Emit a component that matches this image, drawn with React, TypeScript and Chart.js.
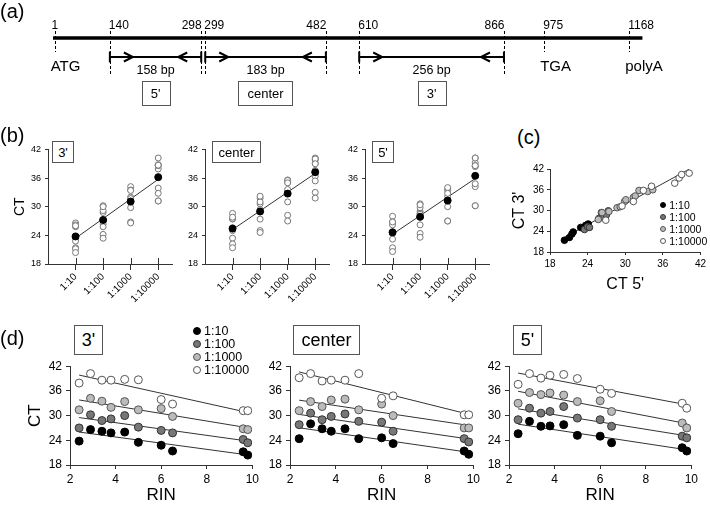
import React, { useEffect, useRef } from 'react';
import { Chart, registerables } from 'chart.js';
Chart.register(...registerables);

const FONT = '"Liberation Sans", Arial, Helvetica, sans-serif';
Chart.defaults.font.family = FONT;
Chart.defaults.color = '#000';

// ---------- (a) gene map ----------
const siteBp = [1, 140, 298, 299, 482, 610, 866, 975, 1168];
const siteMapPos = [0, 9.6, 25.5, 26.2, 47.2, 53.0, 78.2, 85.2, 100]; // schematic (not to scale) positions
const siteLabelAlign = ['center', 'left', 'right', 'left', 'right', 'left', 'right', 'left', 'left'];
const backboneExtent = [-0.3, 102.3];
const landmarkNames = ['ATG', 'TGA', 'polyA'];
const landmarkSite = [0, 7, 8];
const ampliconNames = ["5'", 'center', "3'"];
const ampliconLengths = ['158 bp', '183 bp', '256 bp'];
const ampliconStart = [1, 3, 5];
const ampliconEnd = [2, 4, 6];

// ---------- shared ----------
const dilutions = ['1:10', '1:100', '1:1000', '1:10000'];
const rin = [2.4, 2.9, 3.4, 3.8, 4.4, 5.0, 6.0, 6.5, 9.6, 9.8];

// ---------- (d) CT vs RIN ----------
const d3_10 = [23.8, 26.6, 26.2, 25.8, 26.0, 23.5, 22.8, 21.4, 21.2, 20.4];
const d3_100 = [27.0, 30.2, 28.8, 29.2, 30.0, 27.2, 26.4, 25.8, 24.2, 23.4];
const d3_1000 = [31.4, 34.2, 33.5, 32.0, 33.4, 31.4, 31.7, 29.8, 26.8, 26.6];
const d3_10000 = [37.9, 40.2, 38.6, 38.6, 38.8, 38.7, 33.9, 32.8, 31.2, 31.2];

const dC_10 = [24.4, 28.0, 26.8, 26.2, 26.8, 24.4, 24.6, 23.2, 21.4, 20.6];
const dC_100 = [27.8, 30.6, 29.0, 29.8, 30.4, 28.6, 28.4, 26.2, 24.4, 23.6];
const dC_1000 = [31.2, 33.4, 32.2, 33.8, 34.0, 31.4, 32.8, 30.0, 27.0, 27.0];
const dC_10000 = [39.2, 40.2, 38.4, 38.6, 38.6, 40.2, 34.2, 34.8, 30.2, 30.2];

const d5_10 = [25.6, 28.6, 27.4, 27.5, 27.8, 25.2, 25.0, 23.4, 22.2, 21.4];
const d5_100 = [29.0, 31.8, 30.6, 31.0, 32.2, 29.4, 29.0, 27.4, 25.0, 24.6];
const d5_1000 = [33.0, 35.6, 35.1, 35.5, 35.0, 33.4, 33.6, 31.0, 28.2, 27.0];
const d5_10000 = [37.6, 40.2, 39.1, 39.8, 40.0, 39.0, 36.4, 35.4, 33.0, 31.8];

const d3 = [d3_10, d3_100, d3_1000, d3_10000];
const dC = [dC_10, dC_100, dC_1000, dC_10000];
const d5 = [d5_10, d5_100, d5_1000, d5_10000];

// ---------- (c) CT 5' vs CT 3' ----------
const c10_x = [20.3, 21.1, 21.5, 21.7, 22.9, 23.4, 23.7, 24.1];
const c10_y = [21.4, 22.2, 23.2, 23.8, 25.1, 24.8, 25.7, 26.1];
const c100_x = [23.5, 24.0, 24.3, 25.8, 26.2, 26.6, 27.0, 27.3];
const c100_y = [24.5, 25.3, 25.1, 27.7, 29.4, 28.2, 28.7, 29.9];
const c1000_x = [25.7, 26.3, 27.4, 28.7, 29.2, 29.9, 30.1, 31.3, 31.6, 32.2, 33.6, 34.4];
const c1000_y = [27.4, 29.4, 29.7, 30.8, 31.1, 32.6, 33.1, 33.8, 34.2, 35.8, 35.5, 36.0];
const c10000_x = [26.9, 29.5, 31.3, 32.9, 34.2, 37.9, 38.6, 39.0, 40.2];
const c10000_y = [27.2, 31.3, 32.6, 35.8, 37.0, 37.9, 39.4, 40.4, 40.8];
const cX = [c10_x, c100_x, c1000_x, c10000_x];
const cY = [c10_y, c100_y, c1000_y, c10000_y];

// styles
const seriesFill = ['#000000', '#777777', '#bbbbbb', '#ffffff'];
const seriesBorder = ['#000000', '#333333', '#555555', '#555555'];
const AXIS = '#333333';

function mean(a: number[]) { return a.reduce((s, v) => s + v, 0) / a.length; }
function linfit(xs: number[], ys: number[]) {
  const mx = mean(xs), my = mean(ys);
  let sxx = 0, sxy = 0;
  for (let i = 0; i < xs.length; i++) { sxx += (xs[i] - mx) ** 2; sxy += (xs[i] - mx) * (ys[i] - my); }
  const b = sxy / sxx;
  return (x: number) => my + b * (x - mx);
}

function ChartCanvas({ left, top, width, height, build }: { left: number; top: number; width: number; height: number; build: () => any }) {
  const ref = useRef<HTMLCanvasElement | null>(null);
  useEffect(() => {
    if (!ref.current) return;
    const chart = new Chart(ref.current, build());
    return () => chart.destroy();
  }, []);
  return <canvas ref={ref} width={width} height={height} style={{ position: 'absolute', left, top, width, height, display: 'block' }} />;
}

// ---------- (a) builder ----------
function buildGeneMap() {
  const geneMapPlugin = {
    id: 'geneMap',
    afterDraw(chart: any) {
      const ctx = chart.ctx; const xs = chart.scales.x; const ys = chart.scales.y;
      const yb = ys.getPixelForValue(0);
      const ya = ys.getPixelForValue(-0.5);
      const px = (i: number) => xs.getPixelForValue(siteMapPos[i]);
      ctx.save();
      ctx.fillStyle = '#000';
      ctx.textBaseline = 'middle';
      ctx.font = `12px ${FONT}`;
      siteBp.forEach((bp, i) => {
        const a = siteLabelAlign[i];
        ctx.textAlign = a;
        const x = px(i) + (a === 'left' ? -1 : a === 'right' ? 0.5 : 0);
        ctx.fillText(String(bp), x, yb - 12);
      });
      ctx.strokeStyle = '#000'; ctx.lineWidth = 1; ctx.setLineDash([3, 2]);
      siteBp.forEach((_, i) => {
        const isLm = landmarkSite.includes(i);
        const x = Math.round(px(i)) + 0.5;
        ctx.beginPath(); ctx.moveTo(x, yb - 7); ctx.lineTo(x, isLm ? yb + 14 : yb + 38); ctx.stroke();
      });
      ctx.setLineDash([]);
      ctx.font = `15px ${FONT}`; ctx.textAlign = 'left';
      landmarkNames.forEach((n, k) => ctx.fillText(n, px(landmarkSite[k]) - 4, yb + 29));
      ampliconNames.forEach((name, k) => {
        const x0 = px(ampliconStart[k]), x1 = px(ampliconEnd[k]);
        ctx.lineWidth = 2; ctx.strokeStyle = '#000';
        ctx.beginPath(); ctx.moveTo(x0, ya - 5.5); ctx.lineTo(x0, ya + 5.5); ctx.moveTo(x1, ya - 5.5); ctx.lineTo(x1, ya + 5.5); ctx.stroke();
        const t0 = x0 + 23, t1 = x1 - 23;
        ctx.beginPath(); ctx.moveTo(t0 - 9, ya - 4.5); ctx.lineTo(t0, ya); ctx.lineTo(t0 - 9, ya + 4.5); ctx.stroke();
        ctx.beginPath(); ctx.moveTo(t1 + 9, ya - 4.5); ctx.lineTo(t1, ya); ctx.lineTo(t1 + 9, ya + 4.5); ctx.stroke();
        const cx = (x0 + x1) / 2;
        ctx.font = `12.5px ${FONT}`; ctx.textAlign = 'center';
        ctx.fillText(ampliconLengths[k], cx, yb + 33);
        ctx.font = `13px ${FONT}`;
        const w = ctx.measureText(name).width + 18;
        ctx.lineWidth = 1; ctx.strokeStyle = '#555';
        ctx.strokeRect(Math.round(cx - w / 2) + 0.5, yb + 43.5, Math.round(w), 24);
        ctx.fillText(name, cx, yb + 56);
      });
      ctx.restore();
    },
  };
  const datasets: any[] = [
    { type: 'line', data: [{ x: backboneExtent[0], y: 0 }, { x: backboneExtent[1], y: 0 }], borderColor: '#000', borderWidth: 3.5, pointRadius: 0 },
  ];
  ampliconNames.forEach((_, k) => {
    datasets.push({ type: 'line', data: [{ x: siteMapPos[ampliconStart[k]], y: -0.5 }, { x: siteMapPos[ampliconEnd[k]], y: -0.5 }], borderColor: '#000', borderWidth: 2, pointRadius: 0 });
  });
  return {
    type: 'scatter',
    data: { datasets },
    options: {
      animation: false, responsive: false, maintainAspectRatio: false,
      layout: { padding: { left: 53, right: 67, top: 0, bottom: 36 } },
      plugins: { legend: { display: false }, tooltip: { enabled: false } },
      scales: {
        x: { type: 'linear', display: false, min: -0.3, max: 102.4 },
        y: { type: 'linear', display: false, min: -1, max: 1 },
      },
    },
    plugins: [geneMapPlugin],
  };
}

// ---------- (b) builder ----------
function buildB(src: number[][], showTitle: boolean, yWidth: number) {
  const means = src.map(mean);
  const cats = src.map((_, i) => i + 1);
  const f = linfit(cats, means);
  const crossTicks = {
    id: 'crossTicks',
    afterDatasetsDraw(chart: any) {
      const xs = chart.scales.x; const ctx = chart.ctx; const b = chart.chartArea.bottom;
      ctx.save(); ctx.strokeStyle = AXIS; ctx.lineWidth = 1;
      xs.ticks.forEach((t: any) => {
        const p = Math.round(xs.getPixelForValue(t.value)) + 0.5;
        ctx.beginPath(); ctx.moveTo(p, b - 6); ctx.lineTo(p, b); ctx.stroke();
      });
      ctx.restore();
    },
  };
  return {
    type: 'scatter',
    data: {
      datasets: [
        { data: means.map((m, i) => ({ x: cats[i], y: m })), pointRadius: 3.5, backgroundColor: '#000', borderColor: '#000', borderWidth: 1, order: 0 },
        { data: src.flatMap((arr, i) => arr.map((v) => ({ x: cats[i], y: v }))), pointRadius: 3, backgroundColor: '#fff', borderColor: '#777', borderWidth: 1, order: 1 },
        { type: 'line', data: [{ x: cats[0], y: f(cats[0]) }, { x: cats[cats.length - 1], y: f(cats[cats.length - 1]) }], borderColor: '#333', borderWidth: 1, pointRadius: 0, order: 2 },
      ],
    },
    options: {
      animation: false, responsive: false, maintainAspectRatio: false,
      layout: { padding: { left: 0, right: 2, top: 8, bottom: 0 } },
      plugins: { legend: { display: false }, tooltip: { enabled: false } },
      scales: {
        x: {
          type: 'linear', min: 0, max: 4.5,
          afterBuildTicks: (s: any) => { s.ticks = cats.map((v) => ({ value: v })); },
          afterFit: (s: any) => { s.height = 45; },
          ticks: { callback: (v: any) => dilutions[v - 1] ?? '', minRotation: 45, maxRotation: 45, autoSkip: false, font: { size: 10 }, color: '#000', padding: 1 },
          grid: { display: true, drawOnChartArea: false, drawTicks: true, tickLength: 6, color: AXIS },
          border: { display: true, color: AXIS },
        },
        y: {
          type: 'linear', min: 18, max: 42,
          afterFit: (s: any) => { s.width = yWidth; },
          ticks: { stepSize: 6, font: { size: 9 }, color: '#000', padding: 4 },
          grid: { drawOnChartArea: false, tickLength: 3, color: AXIS },
          border: { display: true, color: AXIS },
          title: { display: showTitle, text: 'CT', font: { size: 14 }, color: '#000', padding: { top: 11.6, bottom: 0 } },
        },
      },
    },
    plugins: [crossTicks],
  };
}

// ---------- (c) builder ----------
function buildC() {
  const allX = cX.flat(), allY = cY.flat();
  const f = linfit(allX, allY);
  const x0 = Math.min(...allX), x1 = Math.max(...allX);
  const datasets: any[] = cX.map((xs, k) => ({
    data: xs.map((x, i) => ({ x, y: cY[k][i] })), pointRadius: 3.3, backgroundColor: seriesFill[k], borderColor: seriesBorder[k], borderWidth: 1, order: 4 - k,
  }));
  datasets.push({ type: 'line', data: [{ x: x0, y: f(x0) }, { x: x1, y: f(x1) }], borderColor: '#333', borderWidth: 1, pointRadius: 0, order: 10 });
  return {
    type: 'scatter',
    data: { datasets },
    options: {
      animation: false, responsive: false, maintainAspectRatio: false,
      layout: { padding: { left: 0, right: 6, top: 9, bottom: 0 } },
      plugins: { legend: { display: false }, tooltip: { enabled: false } },
      scales: {
        x: {
          type: 'linear', min: 18, max: 42,
          afterFit: (s: any) => { s.height = 45; },
          ticks: { stepSize: 6, font: { size: 10 }, color: '#000', padding: 3 },
          grid: { drawOnChartArea: false, tickLength: 3, color: AXIS },
          border: { color: AXIS },
          title: { display: true, text: "CT 5'", font: { size: 16 }, color: '#000', padding: { top: 0, bottom: 3 } },
        },
        y: {
          type: 'linear', min: 18, max: 42,
          afterFit: (s: any) => { s.width = 40; },
          ticks: { stepSize: 6, font: { size: 10 }, color: '#000', padding: 3 },
          grid: { drawOnChartArea: false, tickLength: 3, color: AXIS },
          border: { color: AXIS },
          title: { display: true, text: "CT 3'", font: { size: 16 }, color: '#000', padding: { top: 0, bottom: 0 } },
        },
      },
    },
  };
}

// ---------- (d) builder ----------
function buildD(src: number[][], showTitle: boolean, yWidth: number) {
  const r0 = Math.min(...rin), r1 = Math.max(...rin);
  const datasets: any[] = [];
  src.forEach((vals, k) => {
    datasets.push({ data: vals.map((v, i) => ({ x: rin[i], y: v })), pointRadius: 4, backgroundColor: seriesFill[k], borderColor: seriesBorder[k], borderWidth: 1, order: 4 - k });
  });
  src.forEach((vals) => {
    const f = linfit(rin, vals);
    datasets.push({ type: 'line', data: [{ x: r0, y: f(r0) }, { x: r1, y: f(r1) }], borderColor: '#333', borderWidth: 1, pointRadius: 0, order: 10 });
  });
  return {
    type: 'scatter',
    data: { datasets },
    options: {
      animation: false, responsive: false, maintainAspectRatio: false,
      layout: { padding: { left: 0, right: 8, top: 10, bottom: 0 } },
      plugins: { legend: { display: false }, tooltip: { enabled: false } },
      scales: {
        x: {
          type: 'linear', min: 2, max: 10,
          afterFit: (s: any) => { s.height = 42; },
          ticks: { stepSize: 2, font: { size: 12 }, color: '#000', padding: 3 },
          grid: { drawOnChartArea: false, tickLength: 4, color: AXIS },
          border: { color: AXIS },
          title: { display: true, text: 'RIN', font: { size: 17 }, color: '#000', padding: { top: 0, bottom: 1 } },
        },
        y: {
          type: 'linear', min: 18, max: 42,
          afterFit: (s: any) => { s.width = yWidth; },
          ticks: { stepSize: 6, font: { size: 12 }, color: '#000', padding: 4 },
          grid: { drawOnChartArea: false, tickLength: 4, color: AXIS },
          border: { color: AXIS },
          title: { display: showTitle, text: 'CT', font: { size: 17 }, color: '#000', padding: { top: 24.8, bottom: 0 } },
        },
      },
    },
  };
}

// ---------- HTML helpers ----------
function Txt({ x, y, text, size }: { x: number; y: number; text: string; size: number }) {
  return <div style={{ position: 'absolute', left: x, top: y - size * 0.6, fontSize: size, lineHeight: `${size * 1.2}px`, fontFamily: FONT, whiteSpace: 'nowrap', color: '#000' }}>{text}</div>;
}
function Boxed({ x, y, w, h, text, size }: { x: number; y: number; w: number; h: number; text: string; size: number }) {
  return <div style={{ position: 'absolute', left: x, top: y, width: w, height: h, boxSizing: 'border-box', border: '1px solid #555', background: '#fff', display: 'flex', alignItems: 'center', justifyContent: 'center', fontSize: size, fontFamily: FONT, color: '#000' }}>{text}</div>;
}
function Legend({ x, y, step, r, size }: { x: number; y: number; step: number; r: number; size: number }) {
  return (
    <>
      {dilutions.map((d, k) => (
        <div key={d} style={{ position: 'absolute', left: x - r, top: y + k * step - size * 0.6, height: size * 1.2, display: 'flex', alignItems: 'center', fontFamily: FONT, fontSize: size, whiteSpace: 'nowrap' }}>
          <span style={{ display: 'inline-block', width: 2 * r, height: 2 * r, boxSizing: 'border-box', borderRadius: '50%', background: seriesFill[k], border: `1px solid ${seriesBorder[k]}`, marginRight: 3 }} />
          {d}
        </div>
      ))}
    </>
  );
}

const bPanels = [
  { name: "3'", src: d3, left: 0, yWidth: 48, title: true, box: [52, 22] },
  { name: 'center', src: d5, left: 180, yWidth: 25, title: false, box: [212, 49] },
  { name: "5'", src: dC, left: 340, yWidth: 25, title: false, box: [372, 22] },
];
const dPanels = [
  { name: "3'", src: d3, left: 0, yWidth: 70, title: true, width: 262, box: [74, 29] },
  { name: 'center', src: dC, left: 250, yWidth: 40, title: false, width: 233, box: [293, 67] },
  { name: "5'", src: d5, left: 470, yWidth: 39, title: false, width: 231, box: [513, 29] },
];

export default function App() {
  return (
    <div style={{ position: 'absolute', left: 0, top: 0, width: 710, height: 507, background: '#fff', overflow: 'hidden', fontFamily: FONT, color: '#000' }}>
      <ChartCanvas left={0} top={0} width={710} height={112} build={buildGeneMap} />
      {bPanels.map((p) => (
        <ChartCanvas key={'b' + p.name} left={p.left} top={140} width={p.yWidth + 127 + 2} height={169} build={() => buildB(p.src, p.title, p.yWidth)} />
      ))}
      <ChartCanvas left={510} top={160} width={199} height={137} build={buildC} />
      {dPanels.map((p) => (
        <ChartCanvas key={'d' + p.name} left={p.left} top={355} width={p.width} height={152} build={() => buildD(p.src, p.title, p.yWidth)} />
      ))}
      <Txt x={0} y={11} text="(a)" size={20} />
      <Txt x={0} y={135} text="(b)" size={20} />
      <Txt x={517} y={137} text="(c)" size={20} />
      <Txt x={0} y={338} text="(d)" size={20} />
      {bPanels.map((p) => (
        <Boxed key={'bb' + p.name} x={p.box[0]} y={141} w={p.box[1]} h={22} text={p.name} size={13} />
      ))}
      {dPanels.map((p) => (
        <Boxed key={'db' + p.name} x={p.box[0]} y={325} w={p.box[1]} h={30} text={p.name} size={18} />
      ))}
      <Legend x={197} y={331} step={13} r={4} size={12.5} />
      <Legend x={663} y={205} step={12} r={3.3} size={10.5} />
    </div>
  );
}
